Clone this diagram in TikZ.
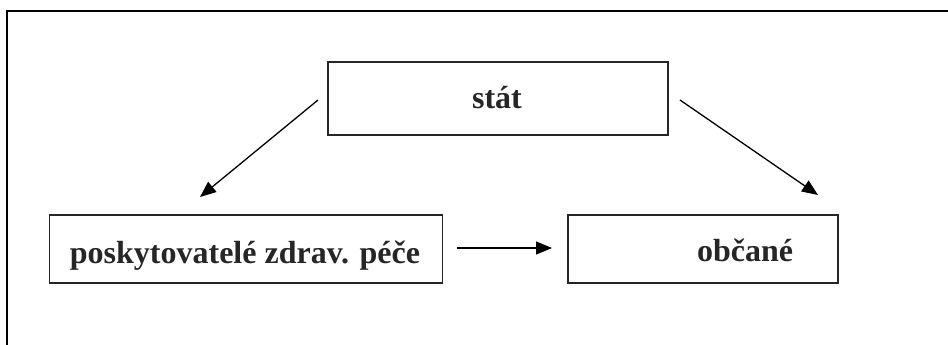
\documentclass[tikz,border=0pt]{standalone}
\usepackage{fontspec}
\setmainfont{Liberation Serif}
\usetikzlibrary{arrows.meta}
\begin{document}
\begin{tikzpicture}[x=1pt,y=-1pt,
  box/.style={draw=black!85,line width=1.6pt,inner sep=0pt},
  lbl/.style={inner sep=0pt,anchor=base,font=\fontsize{32}{36}\selectfont\bfseries,text=black!85},
  conn/.style={line width=1.3pt,-{Triangle[length=16pt,width=13pt]}}]
\useasboundingbox (0,0) rectangle (948,345);
\fill[white] (0,0) rectangle (948,345);
\draw[line width=2.6pt] (7,346) -- (7,11) -- (949,11);
\node[box,minimum width=340,minimum height=73] (stat) at (498,98.5) {};
\node[box,minimum width=393,minimum height=68] (pos) at (246,249) {};
\node[box,minimum width=270,minimum height=68] (obc) at (703,249) {};
\node[lbl] (stattext) at (497,108) {stát};
\node[lbl] (postext) at (245,263) {poskytovatelé zdrav. péče};
\node[lbl] (obctext) at (745,261) {občané};
\coordinate (a1s) at (318,100);
\coordinate (a1e) at (200,197);
\coordinate (a2s) at (680,100);
\coordinate (a2e) at (818,195);
\coordinate (a3s) at (457,248);
\coordinate (a3e) at (552,248);
\draw[conn] (a1s) -- (a1e);
\draw[conn] (a2s) -- (a2e);
\draw[conn] (a3s) -- (a3e);
\end{tikzpicture}
\end{document}
